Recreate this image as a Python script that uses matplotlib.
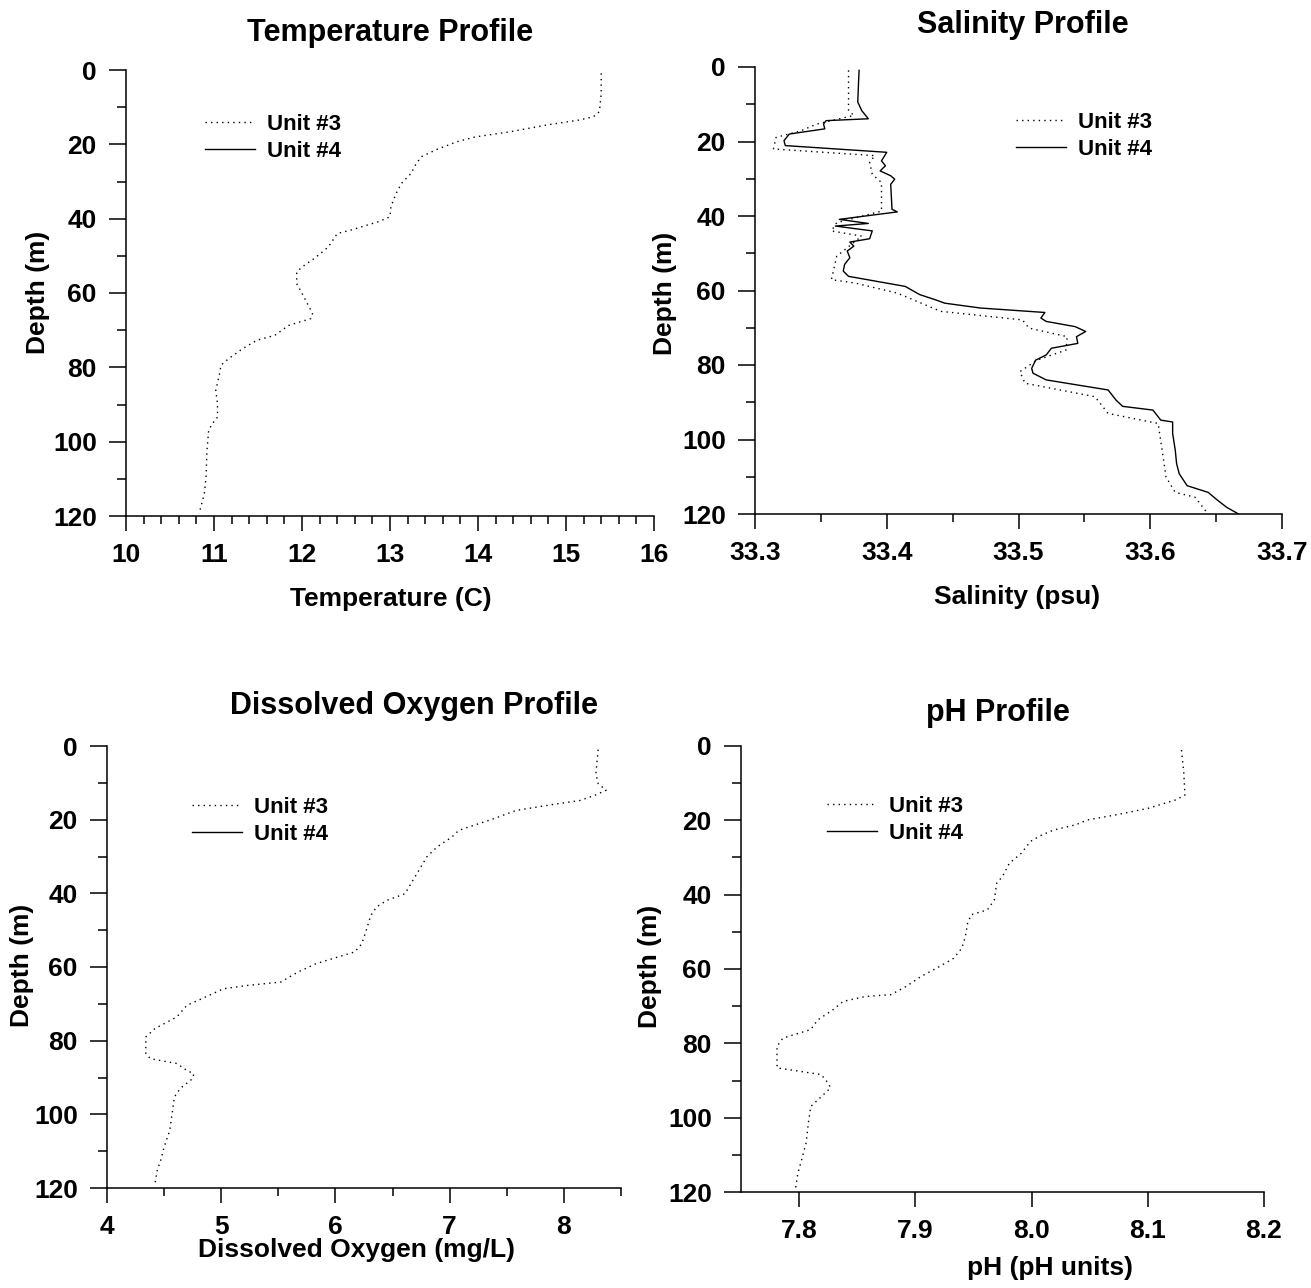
import matplotlib
matplotlib.use("Agg")
import matplotlib.pyplot as plt
from matplotlib.ticker import MultipleLocator, FixedLocator, FormatStrFormatter

plt.rcParams["font.family"] = ["Liberation Sans", "DejaVu Sans"]
plt.rcParams["font.weight"] = "bold"

# temperature, unit #3 (unit #4 has no data in this panel)
temp_depth = [0.9, 6.3, 11.2, 12.6, 13.5, 14.8, 16.6, 18.0, 19.3, 21.5, 23.3, 25.1,
              27.8, 30.5, 33.2, 36.8, 39.5, 40.8, 43.1, 44.0, 47.6, 50.7, 53.0, 54.4,
              57.5, 60.1, 62.8, 65.5, 66.9, 68.7, 71.4, 72.7, 74.9, 77.6, 79.4, 82.1,
              86.2, 89.8, 93.4, 95.2, 96.9, 102.3, 109.5, 114.0, 119.4]
temp_u3 = [15.40, 15.40, 15.38, 15.31, 15.14, 14.78, 14.37, 13.97, 13.76, 13.52, 13.36, 13.30,
           13.24, 13.13, 13.07, 13.01, 13.00, 12.87, 12.55, 12.40, 12.30, 12.14, 12.00, 11.94,
           11.94, 12.00, 12.06, 12.12, 12.10, 11.85, 11.69, 11.49, 11.33, 11.17, 11.08, 11.06,
           11.02, 11.04, 11.04, 10.98, 10.94, 10.92, 10.91, 10.89, 10.83]

# salinity, both units
sal_depth_u4 = [0.9, 4.0, 9.4, 11.7, 13.9, 14.4, 15.3, 16.6, 18.0, 19.8, 21.1, 22.9,
                25.2, 26.5, 27.9, 29.2, 30.1, 31.5, 38.2, 38.9, 40.9, 42.0, 42.7, 44.0,
                46.1, 47.0, 48.1, 49.4, 51.2, 53.0, 54.8, 56.2, 58.9, 61.1, 62.5, 63.4,
                64.7, 65.9, 67.4, 68.3, 69.7, 71.0, 72.4, 74.2, 75.5, 77.3, 78.7, 80.9,
                82.2, 84.0, 86.7, 89.4, 91.1, 92.1, 94.8, 95.3, 98.4, 102.9, 106.5, 109.2,
                112.4, 114.2, 116.0, 118.2, 120.0]
sal_u4 = [33.379, 33.3786, 33.378, 33.381, 33.386, 33.354, 33.352, 33.353, 33.326, 33.322, 33.323, 33.400,
          33.396, 33.399, 33.395, 33.403, 33.406, 33.403, 33.404, 33.408, 33.364, 33.386, 33.361, 33.389,
          33.387, 33.372, 33.375, 33.370, 33.372, 33.368, 33.367, 33.371, 33.414, 33.425, 33.437, 33.444,
          33.471, 33.520, 33.517, 33.521, 33.543, 33.551, 33.544, 33.545, 33.525, 33.521, 33.513, 33.510,
          33.511, 33.521, 33.568, 33.574, 33.579, 33.602, 33.608, 33.617, 33.617, 33.619, 33.620, 33.622,
          33.628, 33.644, 33.650, 33.658, 33.667]
sal_depth_u3 = [0.9, 11.7, 13.0, 15.3, 17.1, 18.9, 22.0, 22.5, 23.8, 25.6, 28.8, 31.0,
                38.7, 41.8, 44.0, 45.4, 50.8, 57.1, 58.0, 60.7, 65.6, 67.9, 70.1, 72.4,
                76.0, 78.7, 81.8, 84.9, 88.5, 93.0, 95.7, 102.9, 110.1, 114.2, 115.5, 119.6]
sal_u3 = [33.371, 33.371, 33.375, 33.347, 33.335, 33.316, 33.314, 33.335, 33.391, 33.387, 33.389, 33.396,
          33.396, 33.362, 33.358, 33.381, 33.362, 33.358, 33.376, 33.408, 33.441, 33.503, 33.508, 33.537,
          33.536, 33.514, 33.501, 33.505, 33.558, 33.568, 33.606, 33.609, 33.612, 33.619, 33.634, 33.643]

# dissolved oxygen, unit #3
do_depth = [1.0, 7.5, 10.2, 12.0, 13.4, 14.8, 15.8, 17.5, 19.7, 22.9, 24.7, 27.4,
            30.1, 33.8, 37.4, 40.1, 41.9, 43.7, 46.0, 50.0, 53.7, 55.9, 57.3, 59.1,
            61.4, 64.1, 65.0, 65.9, 68.6, 70.4, 73.6, 76.7, 79.0, 83.5, 84.9, 86.2,
            88.1, 89.0, 90.3, 93.0, 95.3, 99.8, 104.3, 108.9, 112.5, 115.2, 118.8]
do_u3 = [8.30, 8.28, 8.30, 8.37, 8.27, 8.14, 7.92, 7.58, 7.39, 7.08, 7.02, 6.89,
         6.80, 6.73, 6.66, 6.61, 6.45, 6.36, 6.31, 6.27, 6.23, 6.17, 6.02, 5.83,
         5.67, 5.52, 5.23, 5.02, 4.83, 4.70, 4.61, 4.42, 4.34, 4.34, 4.38, 4.61,
         4.70, 4.76, 4.75, 4.64, 4.59, 4.57, 4.55, 4.50, 4.47, 4.44, 4.42]

# pH, unit #3
ph_depth = [1.1, 7.3, 13.2, 14.5, 16.8, 18.5, 19.9, 21.2, 22.6, 24.2, 25.7, 28.9,
            31.5, 35.1, 36.9, 41.4, 44.1, 45.4, 47.7, 51.3, 54.4, 57.1, 59.3, 62.0,
            64.7, 66.9, 67.4, 68.7, 71.0, 73.7, 76.3, 78.6, 80.8, 86.6, 87.5, 88.4,
            90.7, 92.0, 93.8, 97.0, 101.4, 106.8, 110.4, 114.9, 118.9]
ph_u3 = [8.129, 8.131, 8.132, 8.124, 8.100, 8.073, 8.048, 8.038, 8.019, 8.007, 7.999, 7.991,
         7.981, 7.975, 7.970, 7.968, 7.962, 7.948, 7.945, 7.943, 7.940, 7.933, 7.921, 7.905,
         7.892, 7.879, 7.857, 7.838, 7.829, 7.816, 7.810, 7.786, 7.781, 7.781, 7.800, 7.819,
         7.825, 7.827, 7.821, 7.810, 7.808, 7.806, 7.803, 7.799, 7.797]

W, H = 1311, 1288
fig = plt.figure(figsize=(W / 100, H / 100), dpi=100)


def px_rect(left, top, right, bottom):
    return [left / W, 1 - bottom / H, (right - left) / W, (bottom - top) / H]


def px(x, y):
    return x / W, 1 - y / H


DOT = (0, (1, 3))


def style_axis(ax, xlim, xmajor, xminor, xfmt):
    ax.set_xlim(*xlim)
    ax.set_ylim(120, 0)
    for s in ["top", "right"]:
        ax.spines[s].set_visible(False)
    for s in ["left", "bottom"]:
        ax.spines[s].set_linewidth(1.1)
    ax.yaxis.set_major_locator(MultipleLocator(20))
    ax.yaxis.set_minor_locator(MultipleLocator(10))
    ax.xaxis.set_major_locator(FixedLocator(xmajor))
    if xminor:
        ax.xaxis.set_minor_locator(FixedLocator(xminor))
    ax.xaxis.set_major_formatter(FormatStrFormatter(xfmt))
    ax.tick_params(axis="y", which="major", direction="out", length=12, width=1.1, pad=9, labelsize=19)
    ax.tick_params(axis="y", which="minor", direction="out", length=6.5, width=1.1)
    ax.tick_params(axis="x", which="major", direction="out", length=11, width=1.1, pad=8.5, labelsize=19)
    ax.tick_params(axis="x", which="minor", direction="out", length=5.5, width=1.1)
    for lab in ax.get_xticklabels() + ax.get_yticklabels():
        lab.set_fontweight("bold")


def add_legend(ax, x, y):
    ax.legend(loc="upper left", bbox_to_anchor=px(x, y), bbox_transform=fig.transFigure,
              frameon=False, borderpad=0, borderaxespad=0, handlelength=2.25,
              handletextpad=0.55, labelspacing=0.28,
              prop={"size": 16, "weight": "bold"})


def label(x, y, text, size, rot=0):
    fig.text(*px(x, y), text, ha="center", va="center", fontsize=size,
             fontweight="bold", rotation=rot)


# Temperature
ax1 = fig.add_axes(px_rect(126, 70, 654, 516))
ax1.plot(temp_u3, temp_depth, color="black", lw=1.0, linestyle=DOT, label="Unit #3")
ax1.plot([], [], color="black", lw=1.0, label="Unit #4")
style_axis(ax1, (10, 16), list(range(10, 17)),
           [10 + 0.2 * i for i in range(31) if i % 5], "%d")
add_legend(ax1, 205, 114)
label(390, 33, "Temperature Profile", 22)
label(391, 599, "Temperature (C)", 19)
label(38, 292, "Depth (m)", 19, 90)

# Salinity
ax2 = fig.add_axes(px_rect(755, 67, 1282, 514))
ax2.plot(sal_u3, sal_depth_u3, color="black", lw=1.0, linestyle=DOT, label="Unit #3")
ax2.plot(sal_u4, sal_depth_u4, color="black", lw=1.0, label="Unit #4")
style_axis(ax2, (33.3, 33.7), [33.3, 33.4, 33.5, 33.6, 33.7],
           [33.35, 33.45, 33.55, 33.65], "%.1f")
add_legend(ax2, 1016, 112)
label(1023, 25, "Salinity Profile", 22)
label(1017, 597, "Salinity (psu)", 19)
label(665, 293, "Depth (m)", 19, 90)

# Dissolved oxygen
ax3 = fig.add_axes(px_rect(107, 746, 621, 1188))
ax3.plot(do_u3, do_depth, color="black", lw=1.0, linestyle=DOT, label="Unit #3")
ax3.plot([], [], color="black", lw=1.0, label="Unit #4")
style_axis(ax3, (4, 8.5), [4, 5, 6, 7, 8], [4.5, 5.5, 6.5, 7.5, 8.5], "%d")
add_legend(ax3, 192, 797)
label(414, 706, "Dissolved Oxygen Profile", 22)
label(356, 1250, "Dissolved Oxygen (mg/L)", 19)
label(22, 965, "Depth (m)", 19, 90)

# pH
ax4 = fig.add_axes(px_rect(741, 746, 1264, 1192))
ax4.plot(ph_u3, ph_depth, color="black", lw=1.0, linestyle=DOT, label="Unit #3")
ax4.plot([], [], color="black", lw=1.0, label="Unit #4")
style_axis(ax4, (7.75, 8.2), [7.8, 7.9, 8.0, 8.1, 8.2], None, "%.1f")
add_legend(ax4, 827, 796)
label(998, 713, "pH Profile", 22)
label(1050, 1268, "pH (pH units)", 19)
label(650, 966, "Depth (m)", 19, 90)

fig.savefig("out.png", dpi=100)
